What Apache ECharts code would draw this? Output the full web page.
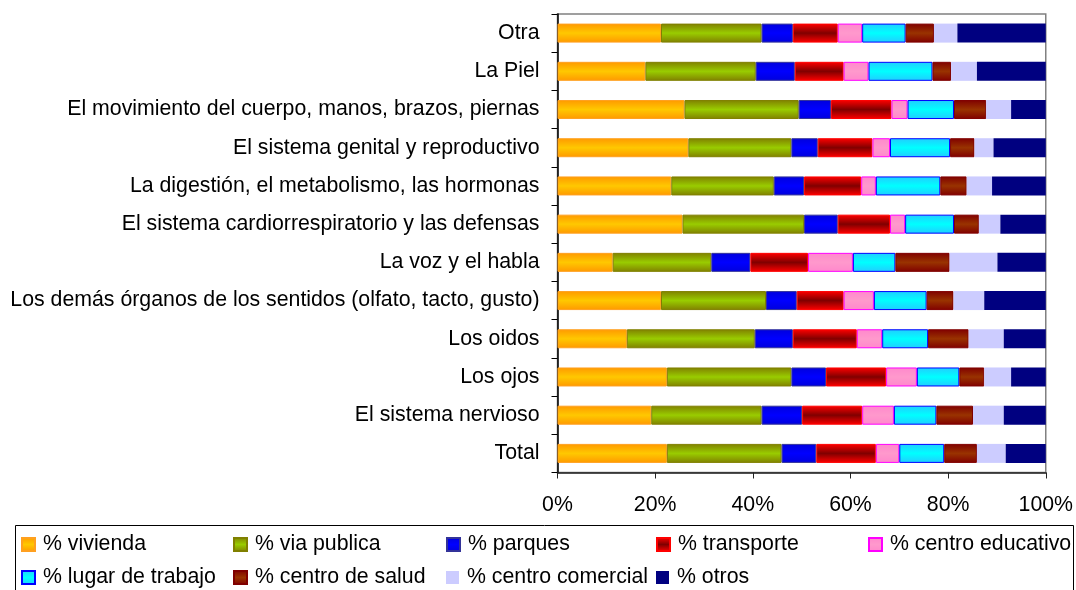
<!DOCTYPE html>
<html>
<head>
<meta charset="utf-8">
<script src="https://cdn.jsdelivr.net/npm/echarts@6/dist/echarts.min.js"></script>
<style>html,body{margin:0;padding:0;background:#fff}#c{width:1076px;height:590px}</style>
</head>
<body>
<div id="c"></div>
<script>
const categories = [
  "Otra",
  "La Piel",
  "El movimiento del cuerpo, manos, brazos, piernas",
  "El sistema genital y reproductivo",
  "La digestión, el metabolismo, las hormonas",
  "El sistema cardiorrespiratorio y las defensas",
  "La voz y el habla",
  "Los demás órganos de los sentidos (olfato, tacto, gusto)",
  "Los oidos",
  "Los ojos",
  "El sistema nervioso",
  "Total"
];
const seriesNames = ["% vivienda","% via publica","% parques","% transporte","% centro educativo","% lugar de trabajo","% centro de salud","% centro comercial","% otros"];
const vivienda   = [21.2,18.0,26.0,26.8,23.3,25.6,11.3,21.2,14.2,22.4,19.2,22.4];
const viaPublica = [20.6,22.6,23.4,21.1,21.0,24.9,20.2,21.5,26.2,25.5,22.6,23.5];
const parques    = [6.4,8.0,6.6,5.4,6.2,6.9,8.0,6.3,7.8,7.1,8.3,7.1];
const transporte = [9.2,10.0,12.4,11.2,11.7,10.7,11.8,9.6,13.1,12.3,12.3,12.2];
const educativo  = [5.0,5.1,3.3,3.6,3.0,3.1,9.2,6.2,5.2,6.3,6.5,4.8];
const trabajo    = [8.9,13.1,9.5,12.3,13.2,10.0,8.7,10.8,9.4,8.7,8.7,9.2];
const salud      = [5.8,3.8,6.6,5.0,5.4,5.1,11.1,5.5,8.3,5.1,7.5,6.7];
const comercial  = [4.8,5.3,5.1,3.9,5.2,4.4,9.8,6.3,7.2,5.5,6.3,5.9];
const otros      = [18.1,14.1,7.1,10.7,11.0,9.3,9.9,12.6,8.6,7.1,8.6,8.2];
const xTickLabels = ["0%","20%","40%","60%","80%","100%"];

const seriesData = [vivienda, viaPublica, parques, transporte, educativo, trabajo, salud, comercial, otros];

function grad(edge, mid) {
  return new echarts.graphic.LinearGradient(0, 0, 0, 1, [
    {offset: 0, color: edge}, {offset: 0.5, color: mid}, {offset: 1, color: edge}
  ]);
}
const styles = [
  {color: grad('#FF9900', '#FFC800'), borderColor: '#FFA020', borderWidth: 1},
  {color: grad('#808000', '#99CC00'), borderColor: '#808000', borderWidth: 1},
  {color: grad('#0000DD', '#0000FF'), borderColor: '#333399', borderWidth: 1},
  {color: grad('#FF0000', '#800000'), borderColor: '#FF0000', borderWidth: 1},
  {color: grad('#FF88CC', '#FF99CC'), borderColor: '#FF00FF', borderWidth: 1},
  {color: grad('#22CCFF', '#00FFFF'), borderColor: '#0000FF', borderWidth: 1},
  {color: grad('#800000', '#993300'), borderColor: '#800000', borderWidth: 1},
  {color: '#CCCCFF', borderColor: '#CCCCFF', borderWidth: 0},
  {color: '#000080', borderColor: '#000080', borderWidth: 0}
];

const FONT = '"Liberation Sans", Arial, sans-serif';

// legend positions (square left x, row)
const legendPos = [[21,0],[233,0],[446,0],[656,0],[868,0],[21,1],[233,1],[446,1],[656,1]];
const rowTop = [534, 567];
const legends = seriesNames.map((n, i) => ({
  data: [n],
  left: legendPos[i][0],
  top: rowTop[legendPos[i][1]],
  orient: 'horizontal',
  padding: 0,
  itemWidth: 13,
  itemHeight: 13,
  icon: 'rect',
  selectedMode: false,
  textStyle: {fontFamily: FONT, fontSize: 21.3, color: '#000', padding: [0, 0, 0, 3]}
}));

const chart = echarts.init(document.getElementById('c'), null, {renderer: 'canvas'});
chart.setOption({
  animation: false,
  backgroundColor: '#fff',
  textStyle: {fontFamily: FONT},
  graphic: [{
    type: 'rect', left: 15, top: 525, z: -1,
    shape: {width: 1058, height: 80},
    style: {fill: '#fff', stroke: '#000', lineWidth: 1}
  }],
  legend: legends,
  grid: {
    left: 557.5, right: 27.5, top: 14, bottom: 117.5,
    show: true, borderColor: '#808080', borderWidth: 1.5, backgroundColor: 'transparent'
  },
  xAxis: {
    type: 'value', min: 0, max: 100, interval: 20,
    axisLine: {show: true, lineStyle: {color: '#222', width: 1.5}},
    axisTick: {show: true, length: 6, lineStyle: {color: '#222'}},
    splitLine: {show: false},
    axisLabel: {
      fontFamily: FONT, fontSize: 21.3, color: '#000', margin: 22,
      formatter: v => xTickLabels[Math.round(v / 20)]
    }
  },
  yAxis: {
    type: 'category', data: categories, inverse: true,
    axisLine: {show: true, lineStyle: {color: '#000', width: 1.5}},
    axisTick: {show: true, length: 6, lineStyle: {color: '#000'}},
    axisLabel: {fontFamily: FONT, fontSize: 21.3, color: '#000', margin: 18}
  },
  series: seriesData.map((d, i) => ({
    type: 'bar', name: seriesNames[i], stack: 'total', data: d,
    barWidth: 19,
    itemStyle: styles[i],
    emphasis: {disabled: true}
  }))
});
</script>
</body>
</html>
